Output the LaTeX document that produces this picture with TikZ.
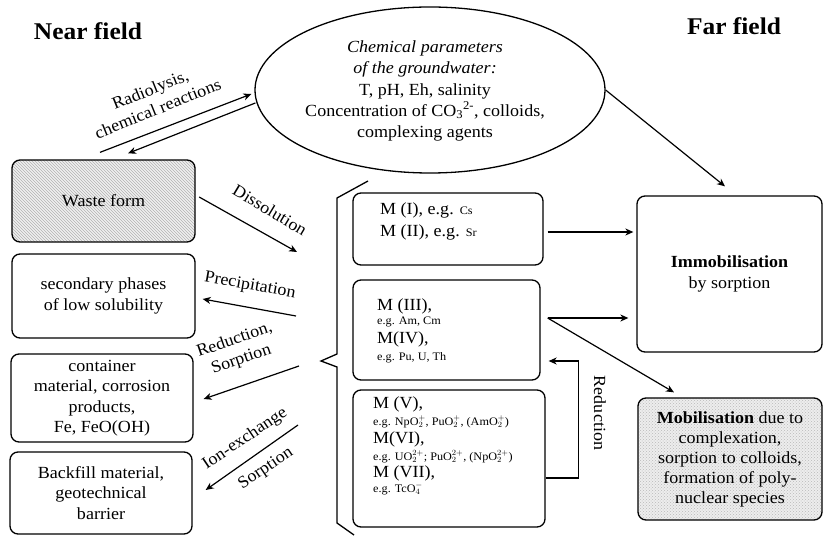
\documentclass[tikz,border=0pt]{standalone}
\usepackage{fontspec}
\setmainfont{Liberation Serif}[FakeStretch=1.06]
\usetikzlibrary{arrows.meta,patterns,calc,shapes.geometric}

\newcommand\bodyfont{\fontsize{17}{20.5}\selectfont}
\newcommand\smallfont{\fontsize{11.5}{13}\selectfont}

\tikzset{
  box/.style={draw, line width=1.3pt, rounded corners=8pt, inner sep=0pt,
              align=center, font=\bodyfont},
  arr/.style={line width=1.2pt, -{Stealth[length=8pt,width=7pt,inset=2.5pt]}},
  lbl/.style={font=\bodyfont, align=center, inner sep=0pt},
  heading/.style={font=\fontsize{24}{28}\selectfont\bfseries, inner sep=0pt, anchor=base},
  spec/.style={font=\bodyfont, anchor=base west, inner sep=0pt},
  specsmall/.style={font=\smallfont, anchor=base west, inner sep=0pt},
  hatched/.style={preaction={fill=gray!12}, pattern=north west lines, pattern color=gray!60},
  mottled/.style={preaction={fill=gray!14}, pattern=crosshatch dots, pattern color=gray!55},
}

\begin{document}
\begin{tikzpicture}[x=1pt,y=-1pt]
\useasboundingbox (0,0) rectangle (824,537);

% headings
\node[heading] (near) at (88,40) {Near field};
\node[heading] (far) at (734,35) {Far field};

% groundwater ellipse
\node[draw, ellipse, line width=1.3pt, minimum width=350pt, minimum height=166pt,
      inner sep=0pt] (gw) at (430,90) {};
\node[lbl, font=\fontsize{17}{21.2}\selectfont] (gwtext) at (425,91)
  {\textit{Chemical parameters}\\ \textit{of the groundwater:}\\
   T, pH, Eh, salinity\\
   Concentration of CO\textsubscript{3}\textsuperscript{2-}, colloids,\\
   complexing agents};

% near-field boxes
\node[box, hatched, minimum width=183pt, minimum height=82pt] (waste) at (103.5,201) {Waste form};
\node[box, minimum width=183pt, minimum height=84pt] (second) at (103.5,296)
  {secondary phases\\ of low solubility};
\node[box, minimum width=182pt, minimum height=88pt] (contain) at (102,398)
  {container\\ material, corrosion\\ products,\\ Fe, FeO(OH)};
\node[box, minimum width=182pt, minimum height=82pt] (backfill) at (101,493)
  {Backfill material,\\ geotechnical\\ barrier};

% species boxes
\node[box, minimum width=190pt, minimum height=72pt] (m1) at (448,229) {};
\node[box, minimum width=187pt, minimum height=100pt] (m3) at (446.5,330) {};
\node[box, minimum width=192pt, minimum height=137pt] (m5) at (449,458.5) {};

\node[spec] (m1a) at (380,215) {M (I), e.g. {\smallfont Cs}};
\node[spec] (m1b) at (380,237) {M (II), e.g. {\smallfont Sr}};

\node[spec] (m3a) at (377,310) {M (III),};
\node[specsmall] (m3b) at (377,324) {e.g. Am, Cm};
\node[spec] (m3c) at (377,343) {M(IV),};
\node[specsmall] (m3d) at (377,360) {e.g. Pu, U, Th};

\node[spec] (m5a) at (373,408) {M (V),};
\node[specsmall] (m5b) at (373,425) {e.g. NpO$_2^+$, PuO$_2^+$, (AmO$_2^+$)};
\node[spec] (m5c) at (373,443) {M(VI),};
\node[specsmall] (m5d) at (373,460) {e.g. UO$_2^{2+}$; PuO$_2^{2+}$, (NpO$_2^{2+}$)};
\node[spec] (m5e) at (373,477) {M (VII),};
\node[specsmall] (m5f) at (373,492) {e.g. TcO$_4^-$};

% far-field boxes
\node[box, minimum width=185pt, minimum height=156pt] (immob) at (729.5,274)
  {\textbf{Immobilisation}\\ by sorption};
\node[box, mottled, minimum width=184pt, minimum height=122pt,
      font=\fontsize{17}{20}\selectfont] (mobil) at (730,459)
  {\textbf{Mobilisation} due to\\ complexation,\\ sorption to colloids,\\
   formation of poly-\\ nuclear species};

% brace grouping the species
\draw[line width=1.3pt, line join=miter] (368,181) -- (337,198) -- (337,354) -- (321,361)
  -- (337,367) -- (337,523) -- (354,535);

% free ends of the near-field arrows at the brace
\coordinate (disend) at (297,252);
\coordinate (prestart) at (296,316);
\coordinate (redstart) at (299,366);
\coordinate (ionstart) at (298,425);

% waste form <-> groundwater
\draw[arr] ($(waste.north)+(-3.5,-7)$) -- ($(gw.west)+(-3,4)$);
\draw[arr] ($(gw.west)+(1,13)$) -- ($(waste.north)+(24.5,-6)$);
\node[lbl, rotate=22] (radlbl) at (154,99) {Radiolysis,\\ chemical reactions};

% groundwater -> far field
\draw[arr] (gw.east) -- ($(immob.north)+(-4.5,-9)$);

% near-field processes
\draw[arr] ($(waste.east)+(3.5,-4)$) -- (disend);
\node[lbl, rotate=-31] (dislbl) at (270,210) {Dissolution};
\draw[arr] (prestart) -- ($(second.east)+(7,3)$);
\node[lbl, rotate=-10] (prelbl) at (250,286) {Precipitation};
\draw[arr] (redstart) -- ($(contain.east)+(10,1)$);
\node[lbl, rotate=19] (redlbl) at (238,350) {Reduction,\\ Sorption};
\draw[arr] (ionstart) -- ($(backfill.east)+(13,-3)$);
\node[lbl, rotate=34] (ionlbl) at (245,439) {Ion-exchange};
\node[lbl, rotate=34] (ionlbl2) at (266,469) {Sorption};

% species -> far field
\draw[arr] ($(m1.east)+(4,3)$) -- ($(immob.west)+(-3,-42)$);
\draw[arr] ($(m3.east)+(7,-12)$) -- ($(immob.west)+(-8,44)$);
\draw[arr] ($(m3.east)+(7,-12)$) -- ($(mobil.north)+(-56,-5)$);

% reduction loop
\draw[arr] ($(m5.east)+(0,19.5)$) -| ($(m3.east)+(38,31)$) -- ($(m3.east)+(8,31)$);
\node[lbl, rotate=-90] (redvlbl) at (600,413) {Reduction};

\end{tikzpicture}
\end{document}
